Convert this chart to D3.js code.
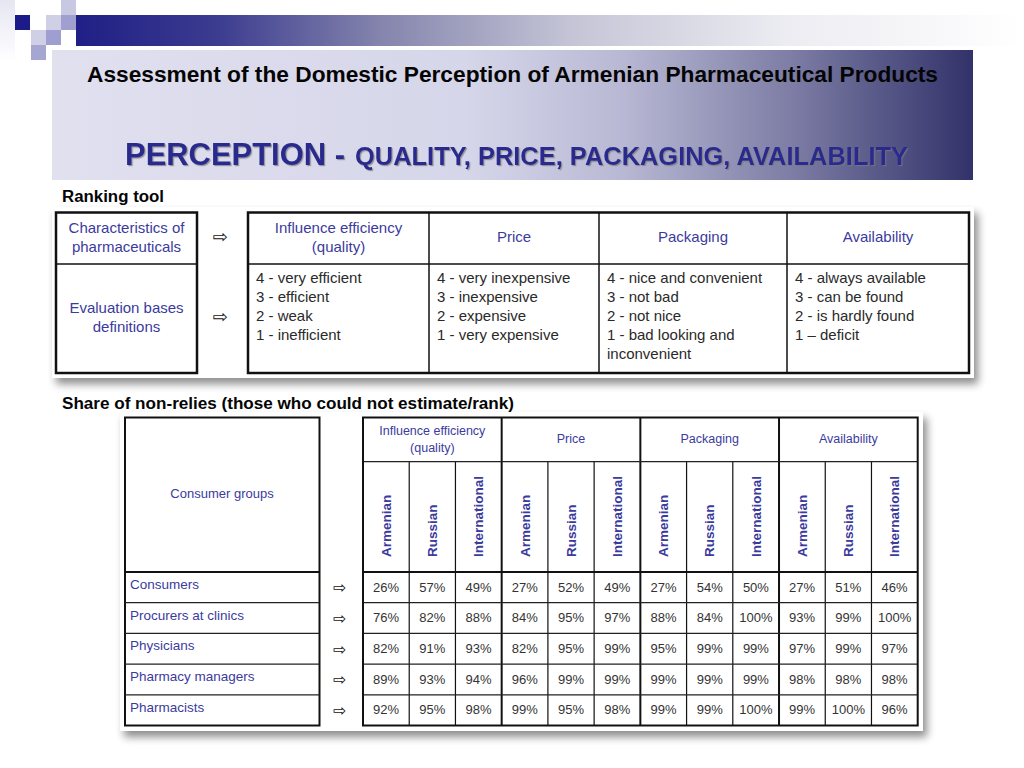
<!DOCTYPE html>
<html><head><meta charset="utf-8">
<script src="https://cdn.jsdelivr.net/npm/d3@7"></script>
<style>body{margin:0;background:#fff}svg{display:block}</style>
</head><body>
<svg id="c" width="1024" height="768"></svg>
<script>
// ---------- data ----------
const slideTitle = "Assessment of the Domestic Perception of Armenian Pharmaceutical Products";
const headingMain = "PERCEPTION -";
const headingSub = "QUALITY, PRICE, PACKAGING, AVAILABILITY";
const rankingLabel = "Ranking tool";
const shareLabel = "Share of non-relies (those who could not estimate/rank)";
const rowHeaders1 = [["Characteristics of","pharmaceuticals"],["Evaluation bases","definitions"]];
const characteristics = [["Influence efficiency","(quality)"],["Price"],["Packaging"],["Availability"]];
const definitions = [
  ["4 - very efficient","3 - efficient","2 - weak","1 - inefficient"],
  ["4 - very inexpensive","3 - inexpensive","2 - expensive","1 - very expensive"],
  ["4 - nice and convenient","3 - not bad","2 - not nice","1 - bad looking and","inconvenient"],
  ["4 - always available","3 - can be found","2 - is hardly found","1 \u2013 deficit"]
];
const groupHeader = "Consumer groups";
const origins = ["Armenian","Russian","International"];
const groups = ["Consumers","Procurers at clinics","Physicians","Pharmacy managers","Pharmacists"];
const consumers        = [26,57,49, 27,52,49, 27,54,50, 27,51,46];
const procurers        = [76,82,88, 84,95,97, 88,84,100, 93,99,100];
const physicians       = [82,91,93, 82,95,99, 95,99,99, 97,99,97];
const pharmacyManagers = [89,93,94, 96,99,99, 99,99,99, 98,98,98];
const pharmacists      = [92,95,98, 99,95,98, 99,99,100, 99,100,96];
const shareValues = [consumers, procurers, physicians, pharmacyManagers, pharmacists];

// ---------- styles ----------
const navy = "#3b3b9d";
const ink = "#2a2a2a";
const fontMain = "'Liberation Sans', Arial, sans-serif";
const fontNarrow = "'Liberation Sans Narrow', 'Arial Narrow', 'Liberation Sans', Arial, sans-serif";
const ARROW = "\u21E8";

const svg = d3.select("#c");
const defs = svg.append("defs");

// gradients
const g1 = defs.append("linearGradient").attr("id","strip").attr("x1","0").attr("x2","1");
[[0,"#1f1f86"],[0.15,"#3c3c90"],[0.32,"#8484ad"],[0.52,"#c4c4d6"],[0.75,"#ececf2"],[1,"#ffffff"]]
  .forEach(([o,c])=>g1.append("stop").attr("offset",o).attr("stop-color",c));
const g2 = defs.append("linearGradient").attr("id","banner").attr("x1","0").attr("x2","1");
[[0,"#e0e0ef"],[0.45,"#d6d6ea"],[0.62,"#b8b8d4"],[0.8,"#7e7ea6"],[1,"#32326a"]]
  .forEach(([o,c])=>g2.append("stop").attr("offset",o).attr("stop-color",c));
const g3 = defs.append("linearGradient").attr("id","leftedge").attr("x1","0").attr("x2","0").attr("y1","0").attr("y2","1");
[[0,"#e6e6f2"],[1,"#ffffff"]].forEach(([o,c])=>g3.append("stop").attr("offset",o).attr("stop-color",c));

// shadow filter
const f = defs.append("filter").attr("id","shadow").attr("x","-5%").attr("y","-5%").attr("width","115%").attr("height","125%");
f.append("feGaussianBlur").attr("in","SourceAlpha").attr("stdDeviation",4).attr("result","b");
f.append("feOffset").attr("in","b").attr("dx",4).attr("dy",6).attr("result","o");
f.append("feComponentTransfer").attr("in","o").attr("result","t")
  .append("feFuncA").attr("type","linear").attr("slope",0.45);
const fm = f.append("feMerge"); fm.append("feMergeNode").attr("in","t"); fm.append("feMergeNode").attr("in","SourceGraphic");

const ts = defs.append("filter").attr("id","tshadow");
ts.append("feDropShadow").attr("dx",1.2).attr("dy",1.2).attr("stdDeviation",0.6).attr("flood-color","#777").attr("flood-opacity",0.7);

// ---------- decoration ----------
svg.append("rect").attr("x",0).attr("y",0).attr("width",15).attr("height",62).attr("fill","url(#leftedge)");
svg.append("rect").attr("x",76).attr("y",15).attr("width",948).attr("height",31).attr("fill","url(#strip)");
const squares = [
  [15,15,"#1c1c88"],[46,15,"#cfcfe6"],[61,0,"#c8c8e3"],[61,15,"#a0a0d0"],
  [31,30,"#cfcfe6"],[46,30,"#9e9ed0"],[31,45,"#a6a6d2"]
];
svg.selectAll("rect.sq").data(squares).join("rect").attr("class","sq")
  .attr("x",d=>d[0]).attr("y",d=>d[1]).attr("width",15).attr("height",15).attr("fill",d=>d[2]);

svg.append("rect").attr("x",52).attr("y",50).attr("width",921).attr("height",130).attr("fill","url(#banner)");

svg.append("text").attr("x",87).attr("y",81.5).attr("font-family",fontNarrow).attr("font-weight","bold")
  .attr("font-size",22.5).attr("fill","#050505").attr("textLength",851).attr("lengthAdjust","spacingAndGlyphs")
  .text(slideTitle);
svg.append("text").attr("x",125).attr("y",165).attr("font-family",fontNarrow).attr("font-weight","bold")
  .attr("font-size",32).attr("fill","#2c2c8e").attr("textLength",220).attr("lengthAdjust","spacingAndGlyphs")
  .attr("filter","url(#tshadow)").text(headingMain);
svg.append("text").attr("x",355).attr("y",165).attr("font-family",fontNarrow).attr("font-weight","bold")
  .attr("font-size",25).attr("fill","#2c2c8e").attr("textLength",553).attr("lengthAdjust","spacingAndGlyphs")
  .attr("filter","url(#tshadow)").text(headingSub);

svg.append("text").attr("x",62).attr("y",201.5).attr("font-family",fontNarrow).attr("font-weight","bold")
  .attr("font-size",16).attr("fill","#050505").attr("textLength",102).attr("lengthAdjust","spacingAndGlyphs")
  .text(rankingLabel);
svg.append("text").attr("x",62).attr("y",408.5).attr("font-family",fontNarrow).attr("font-weight","bold")
  .attr("font-size",16).attr("fill","#050505").attr("textLength",452).attr("lengthAdjust","spacingAndGlyphs")
  .text(shareLabel);

// ---------- table 1 ----------
const t1 = svg.append("g");
t1.append("rect").attr("x",52).attr("y",207).attr("width",922).attr("height",171).attr("fill","#fff").attr("filter","url(#shadow)");
const t1Top = 212.5, t1Mid = 264, t1Bot = 373;
const t1Cols = d3.scaleOrdinal().domain(d3.range(5)).range([248,429,599,787,969]);
// left box
t1.append("rect").attr("x",56).attr("y",t1Top).attr("width",141).attr("height",t1Bot-t1Top)
  .attr("fill","none").attr("stroke","#111").attr("stroke-width",2.5);
t1.append("line").attr("x1",56).attr("x2",197).attr("y1",t1Mid).attr("y2",t1Mid).attr("stroke","#111").attr("stroke-width",1.5);
const rowCenters1 = [237, 317];
rowHeaders1.forEach((lines,i)=>{
  lines.forEach((ln,j)=>{
    t1.append("text").attr("x",126.5).attr("y",rowCenters1[i] + (j - (lines.length-1)/2)*19 + 5)
      .attr("text-anchor","middle").attr("font-family",fontMain).attr("font-size",15).attr("fill",navy).text(ln);
  });
  t1.append("text").attr("x",220).attr("y",rowCenters1[i]+6).attr("text-anchor","middle")
    .attr("font-family","'DejaVu Sans', sans-serif").attr("font-size",18).attr("fill","#111").text(ARROW);
});
// right table
t1.append("rect").attr("x",248).attr("y",t1Top).attr("width",721).attr("height",t1Bot-t1Top)
  .attr("fill","none").attr("stroke","#111").attr("stroke-width",2.5);
t1.append("line").attr("x1",248).attr("x2",969).attr("y1",t1Mid).attr("y2",t1Mid).attr("stroke","#111").attr("stroke-width",1.5);
d3.range(1,4).forEach(i=>{
  t1.append("line").attr("x1",t1Cols(i)).attr("x2",t1Cols(i)).attr("y1",t1Top).attr("y2",t1Bot).attr("stroke","#111").attr("stroke-width",1.5);
});
characteristics.forEach((lines,i)=>{
  const cx = (t1Cols(i)+t1Cols(i+1))/2;
  lines.forEach((ln,j)=>{
    t1.append("text").attr("x",cx).attr("y",237 + (j-(lines.length-1)/2)*19 + 5)
      .attr("text-anchor","middle").attr("font-family",fontMain).attr("font-size",15).attr("fill",navy).text(ln);
  });
  definitions[i].forEach((ln,j)=>{
    t1.append("text").attr("x",t1Cols(i)+8).attr("y",277.7 + j*19 + 5.3)
      .attr("font-family",fontMain).attr("font-size",15).attr("fill",ink).text(ln);
  });
});

// ---------- table 2 ----------
const t2 = svg.append("g");
t2.append("rect").attr("x",120).attr("y",412).attr("width",803).attr("height",319).attr("fill","#fff").attr("filter","url(#shadow)");
const hTop = 417.5, hCat = 461.7, hBot = 572, tBot = 725.5;
const xCol = d3.scaleBand().domain(d3.range(12)).range([363, 917.7]);
const yRow = d3.scaleBand().domain(groups).range([hBot, tBot]);

// left box
t2.append("rect").attr("x",125).attr("y",hTop).attr("width",194.5).attr("height",tBot-hTop)
  .attr("fill","none").attr("stroke","#111").attr("stroke-width",2);
t2.append("line").attr("x1",125).attr("x2",319.5).attr("y1",hBot).attr("y2",hBot).attr("stroke","#111").attr("stroke-width",2);
t2.append("text").attr("x",222).attr("y",497.5).attr("text-anchor","middle").attr("font-family",fontMain)
  .attr("font-size",13).attr("fill",navy).text(groupHeader);
groups.forEach((g,i)=>{
  const y0 = yRow(g);
  if(i>0) t2.append("line").attr("x1",125).attr("x2",319.5).attr("y1",y0).attr("y2",y0).attr("stroke","#222").attr("stroke-width",1.2);
  t2.append("text").attr("x",130).attr("y",y0+17).attr("font-family",fontMain).attr("font-size",13.5)
    .attr("fill",navy).text(g);
  t2.append("text").attr("x",340).attr("y",y0+yRow.bandwidth()/2+6).attr("text-anchor","middle")
    .attr("font-family","'DejaVu Sans', sans-serif").attr("font-size",16).attr("fill","#111").text(ARROW);
});

// right table grid
const x0 = xCol(0), x1 = xCol(11)+xCol.bandwidth();
d3.range(1,12).forEach(i=>{
  const thick = i%3===0;
  t2.append("line").attr("x1",xCol(i)).attr("x2",xCol(i)).attr("y1",thick?hTop:hCat).attr("y2",tBot)
    .attr("stroke","#111").attr("stroke-width",thick?2:1.2);
});
t2.append("line").attr("x1",x0).attr("x2",x1).attr("y1",hCat).attr("y2",hCat).attr("stroke","#222").attr("stroke-width",1.2);
t2.append("line").attr("x1",x0).attr("x2",x1).attr("y1",hBot).attr("y2",hBot).attr("stroke","#111").attr("stroke-width",2);
groups.forEach((g,i)=>{ if(i>0) t2.append("line").attr("x1",x0).attr("x2",x1).attr("y1",yRow(g)).attr("y2",yRow(g)).attr("stroke","#222").attr("stroke-width",1.2); });
t2.append("rect").attr("x",x0).attr("y",hTop).attr("width",x1-x0).attr("height",tBot-hTop)
  .attr("fill","none").attr("stroke","#111").attr("stroke-width",2);

// category headers
characteristics.forEach((lines,i)=>{
  const cx = xCol(i*3) + xCol.bandwidth()*1.5;
  lines.forEach((ln,j)=>{
    t2.append("text").attr("x",cx).attr("y",438.5 + (j-(lines.length-1)/2)*17 + 4.5)
      .attr("text-anchor","middle").attr("font-family",fontMain).attr("font-size",12.5).attr("fill",navy).text(ln);
  });
});
// rotated origin headers
d3.range(12).forEach(i=>{
  const cx = xCol(i)+xCol.bandwidth()/2;
  t2.append("text").attr("transform",`translate(${cx+4.8},557) rotate(-90)`)
    .attr("font-family",fontMain).attr("font-weight","bold").attr("font-size",13.5).attr("fill",navy)
    .text(origins[i%3]);
});
// values
groups.forEach((g,r)=>{
  t2.selectAll(null).data(shareValues[r]).join("text")
    .attr("x",(d,i)=>xCol(i)+xCol.bandwidth()/2)
    .attr("y",yRow(g)+yRow.bandwidth()/2+4.3)
    .attr("text-anchor","middle").attr("font-family",fontMain).attr("font-size",13).attr("fill","#333")
    .text(d=>d+"%");
});
</script>
</body></html>
